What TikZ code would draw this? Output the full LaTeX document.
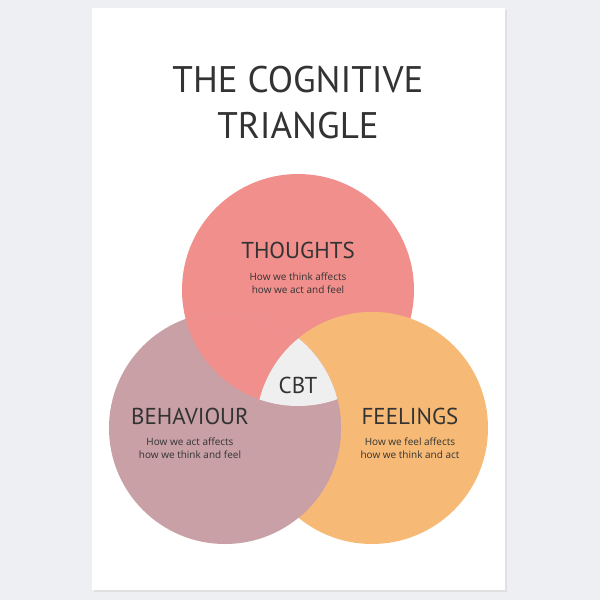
\documentclass[tikz,border=0pt]{standalone}
\usepackage{fontspec}
\setmainfont{Open Sans}
\newfontfamily\titlefont{PT Sans}
\definecolor{bgpage}{HTML}{EDEFF2}
\definecolor{inkgray}{HTML}{333333}
\definecolor{thoughtpink}{HTML}{F08F8C}
\definecolor{behavmauve}{HTML}{C8A0A6}
\definecolor{feelorange}{HTML}{F6BA76}
\definecolor{cbtgray}{HTML}{EFEFEF}
\tikzset{
  headline/.style={font=\titlefont\fontsize{23}{25}\selectfont, text=inkgray},
  blurb/.style={font=\fontsize{10}{12.5}\selectfont, text=inkgray, align=center},
  title/.style={font=\titlefont\fontsize{37}{46}\selectfont, text=inkgray, align=center}
}
\def\thoughts{(298,290) circle (116)}
\def\behav{(225,428) circle (116)}
\def\feel{(372,428) circle (116)}
\begin{document}
\begin{tikzpicture}[x=1pt,y=-1pt]
    \fill [bgpage] (0,0) rectangle (600,600);
    \fill [black!12] (94,10) rectangle (507,592);
    \fill [white] (92,8) rectangle (505,590);
    % circles
    \fill [thoughtpink] \thoughts;
    \fill [feelorange] \feel;
    \fill [behavmauve] \behav;
    % cyclic overlaps
    \begin{scope}
      \clip \behav;
      \fill [thoughtpink] \thoughts;
    \end{scope}
    \begin{scope}
      \clip \thoughts;
      \fill [feelorange] \feel;
    \end{scope}
    \begin{scope}
      \clip \feel;
      \fill [behavmauve] \behav;
    \end{scope}
    \begin{scope}
      \clip \thoughts;
      \clip \behav;
      \fill [cbtgray] \feel;
    \end{scope}
    % texts
    \node (title) at (298,103) [title] {THE COGNITIVE\\TRIANGLE};
    \node (thoughtshead) at (298,250) [headline] {THOUGHTS};
    \node (thoughtstext) at (298,283) [blurb] {How we think affects\\how we act and feel};
    \node (cbt) at (298,385) [headline] {CBT};
    \node (behavhead) at (190,416) [headline] {BEHAVIOUR};
    \node (behavtext) at (190,448) [blurb] {How we act affects\\how we think and feel};
    \node (feelhead) at (410,416) [headline] {FEELINGS};
    \node (feeltext) at (410,448) [blurb] {How we feel affects\\how we think and act};
\end{tikzpicture}
\end{document}
